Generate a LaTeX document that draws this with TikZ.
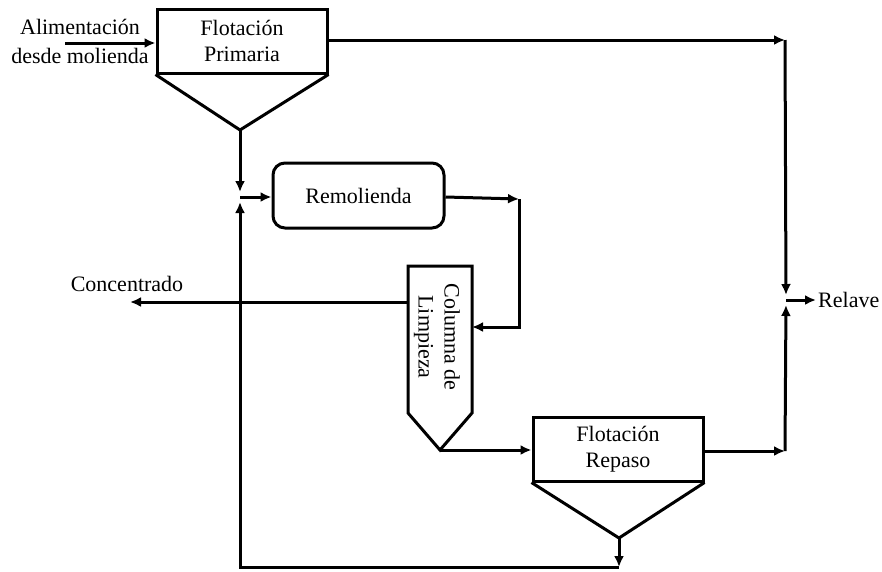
\documentclass[tikz,border=0pt]{standalone}
\usepackage{fontspec}
\setmainfont{Liberation Serif}
\usetikzlibrary{arrows.meta}
\tikzset{
  line/.style={line width=3pt, line join=miter},
  arr/.style={line, -{Latex[length=11pt,width=10pt]}},
  unit/.style={draw, line width=3pt, minimum width=170pt, minimum height=64pt,
    inner sep=0pt, align=center, font=\fontsize{22}{26}\selectfont},
  label/.style={inner sep=0pt, align=center, font=\fontsize{22}{26}\selectfont}
}
\begin{document}
\begin{tikzpicture}[x=1pt,y=-1pt]
  \useasboundingbox (0,0) rectangle (882,571);

  % flotation cells and regrind mill
  \node[unit] (prim) at (242,41) {Flotación\\Primaria};
  \node[unit, rounded corners=12pt, minimum width=171pt, minimum height=65pt] (remol) at (358.5,195.5) {Remolienda};
  \node[unit] (rep) at (618,449) {Flotación\\Repaso};

  % cone bottoms of the flotation cells
  \coordinate (primApex) at (240,130);
  \coordinate (repApex) at (619,538);
  \draw[line] (prim.south west) -- (primApex) -- (prim.south east);
  \draw[line] (rep.south west) -- (repApex) -- (rep.south east);

  % cleaning column
  \coordinate (colNW) at (408,266);
  \coordinate (colNE) at (472,266);
  \coordinate (colSE) at (472,413);
  \coordinate (colSW) at (408,413);
  \coordinate (colApex) at (440,450);
  \draw[line] (colNW) -- (colNE) -- (colSE) -- (colApex) -- (colSW) -- cycle;
  \node[label, rotate=-90] (col) at (437,337) {Columna de\\Limpieza};

  % stream labels
  \node[label, font=\fontsize{22}{29}\selectfont] (feedTxt) at (80,41) {Alimentación\\desde molienda};
  \node[label] (concTxt) at (127,284) {Concentrado};
  \node[label, anchor=west] (relTxt) at (818,300) {Relave};

  % junction and corner points
  \coordinate (feed) at (65,43);
  \coordinate (J1) at (240,197);
  \coordinate (topR) at (785,40);
  \coordinate (relJ) at (786,300);
  \coordinate (relOut) at (816,300);
  \coordinate (remR) at (519,199);
  \coordinate (colIn) at (519,327);
  \coordinate (concEnd) at (130,302);
  \coordinate (repR) at (785,451);
  \coordinate (repDown) at (619,567);
  \coordinate (botL) at (240,567);

  % feed into primary flotation
  \draw[arr] (feed) -- (feed -| prim.west);
  % primary tailings to final tailings
  \draw[arr] (prim.east |- topR) -- (topR);
  \draw[arr, shorten >=5pt] (topR) -- (relJ);
  % primary concentrate to regrind
  \draw[arr, shorten >=5pt] (primApex) -- (J1);
  \draw[arr] (J1) -- (J1 -| remol.west);
  % regrind to cleaning column
  \draw[arr] (remol.east |- 0,197) -- (remR);
  \draw[arr] (remR) -- (colIn) -- (colIn -| colNE);
  % final concentrate
  \draw[arr] (colNW |- concEnd) -- (concEnd);
  % column tailings to scavenger flotation
  \draw[arr] (colApex) -- (colApex -| rep.west);
  % scavenger tailings to final tailings
  \draw[arr] (rep.east |- repR) -- (repR);
  \draw[arr, shorten >=5pt] (repR) -- (relJ);
  \draw[arr] (relJ) -- (relOut);
  % scavenger concentrate recycled to regrind
  \draw[arr] (repApex) -- (repDown);
  \draw[arr, shorten >=5pt] (repDown) -- (botL) -- (J1);
\end{tikzpicture}
\end{document}
